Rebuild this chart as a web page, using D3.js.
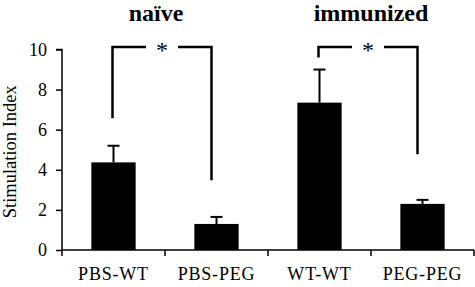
<!DOCTYPE html>
<html>
<head>
<meta charset="utf-8">
<script src="https://cdn.jsdelivr.net/npm/d3@7"></script>
<style>
  body { margin: 0; background: #fff; }
  svg text { font-family: "Liberation Serif", "Times New Roman", serif; fill: #000; }
</style>
</head>
<body>
<div id="chart"></div>
<script>
// data
const categories = ["PBS-WT", "PBS-PEG", "WT-WT", "PEG-PEG"];
const means = [4.37, 1.3, 7.35, 2.3];
const errors = [0.83, 0.35, 1.65, 0.2];
const yTicks = [0, 2, 4, 6, 8, 10];
const groupTitles = ["naïve", "immunized"];
// significance brackets: [left category, right category, left drop to, right drop to]
const brackets = [
    ["PBS-WT", "PBS-PEG", 6.57, 3.48],
    ["WT-WT", "PEG-PEG", 9.6, 4.78]
];

const width = 475, height = 287;
const serif = "'Liberation Serif', 'Times New Roman', serif";

const svg = d3.select("#chart").append("svg")
    .attr("width", width)
    .attr("height", height);

const xScale = d3.scaleBand().domain(categories).range([62, 474]).padding(0);
const yScale = d3.scaleLinear().domain([0, 10]).range([250, 49.5]);
const barWidth = xScale.bandwidth() * 0.43;
const cx = c => xScale(c) + xScale.bandwidth() / 2;

// y axis
const yAxis = d3.axisLeft(yScale).tickValues(yTicks).tickSize(6).tickPadding(9);
const yG = svg.append("g")
    .attr("transform", `translate(${xScale.range()[0]},0)`)
    .call(yAxis);
yG.select(".domain").attr("stroke-width", 1.5).attr("d", `M-6,${yScale(10)}H0V${yScale(0)}`);
yG.selectAll(".tick line").attr("stroke-width", 1.5);
yG.selectAll(".tick text")
    .style("font-size", "18px")
    .style("font-family", serif);

// x axis (ticks on band edges, labels on centres)
const xG = svg.append("g");
xG.append("line")
    .attr("x1", xScale.range()[0]).attr("x2", xScale.range()[1])
    .attr("y1", yScale(0)).attr("y2", yScale(0))
    .attr("stroke", "#000").attr("stroke-width", 1.5);
const edges = categories.map(c => xScale(c)).concat([xScale.range()[1]]);
xG.selectAll("line.xtick").data(edges).enter().append("line")
    .attr("class", "xtick")
    .attr("x1", d => d).attr("x2", d => d)
    .attr("y1", yScale(0)).attr("y2", yScale(0) + 6)
    .attr("stroke", "#000").attr("stroke-width", 1.5);
xG.selectAll("text.xlabel").data(categories).enter().append("text")
    .attr("class", "xlabel")
    .attr("x", d => cx(d))
    .attr("y", 280)
    .attr("text-anchor", "middle")
    .style("font-size", "18px")
    .style("letter-spacing", "0.8px")
    .style("font-family", serif)
    .text(d => d);

// y title
svg.append("text")
    .attr("transform", `translate(16, ${(yScale(0) + yScale(10)) / 2 + 2}) rotate(-90)`)
    .attr("text-anchor", "middle")
    .style("font-size", "18.5px")
    .style("font-family", serif)
    .text("Stimulation Index");

// bars
svg.selectAll("rect.bar").data(categories).enter().append("rect")
    .attr("class", "bar")
    .attr("x", d => cx(d) - barWidth / 2)
    .attr("y", (d, i) => yScale(means[i]))
    .attr("width", barWidth)
    .attr("height", (d, i) => yScale(0) - yScale(means[i]))
    .attr("fill", "#000");

// error bars (upper only)
const eb = svg.selectAll("g.err").data(categories).enter().append("g").attr("class", "err");
eb.append("line")
    .attr("x1", d => cx(d)).attr("x2", d => cx(d))
    .attr("y1", (d, i) => yScale(means[i]))
    .attr("y2", (d, i) => yScale(means[i] + errors[i]))
    .attr("stroke", "#000").attr("stroke-width", 2);
eb.append("line")
    .attr("x1", d => cx(d) - 6).attr("x2", d => cx(d) + 6)
    .attr("y1", (d, i) => yScale(means[i] + errors[i]))
    .attr("y2", (d, i) => yScale(means[i] + errors[i]))
    .attr("stroke", "#000").attr("stroke-width", 2);

// significance brackets
const topY = yScale(10.12);
brackets.forEach(b => {
    const x1 = cx(b[0]) - 1, x2 = cx(b[1]) - 5;
    const mid = (x1 + x2) / 2;
    const gap = 16;
    const g = svg.append("g")
        .attr("fill", "none").attr("stroke", "#000").attr("stroke-width", 2.5);
    g.append("path").attr("d", `M${x1},${yScale(b[2])}V${topY}H${mid - gap}`);
    g.append("path").attr("d", `M${mid + gap},${topY}H${x2}V${yScale(b[3])}`);
    svg.append("text")
        .attr("x", mid)
        .attr("y", topY + 11)
        .attr("text-anchor", "middle")
        .style("font-size", "24px")
        .style("font-family", serif)
        .text("*");
});

// group titles
const titleX = [(cx(categories[0]) + cx(categories[1])) / 2 - 9, (cx(categories[2]) + cx(categories[3])) / 2];
svg.selectAll("text.gtitle").data(groupTitles).enter().append("text")
    .attr("class", "gtitle")
    .attr("x", (d, i) => titleX[i])
    .attr("y", 21)
    .attr("text-anchor", "middle")
    .style("font-size", "24px")
    .style("font-weight", "bold")
    .style("font-family", serif)
    .text(d => d);
</script>
</body>
</html>
